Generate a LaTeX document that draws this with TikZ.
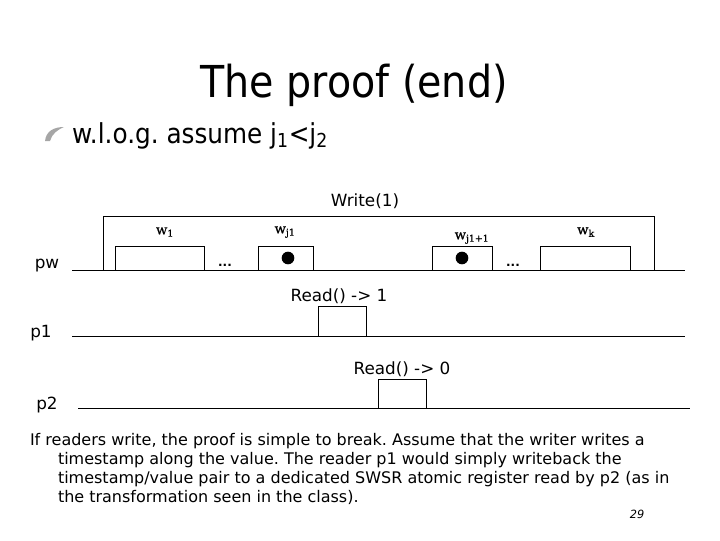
\documentclass[tikz,border=0pt]{standalone}
\usepackage{fontspec}
\setmainfont{DejaVu Sans}
\newfontfamily\tahomaish{DejaVu Sans}[FakeStretch=0.9]
\newfontfamily\serifw{DejaVu Serif}[FakeBold=1]
\newcommand{\wl}[2]{\serifw\fontsize{10}{11}\selectfont #1\textsubscript{#2}}
\frenchspacing
\tikzset{
  px/.style={x=0.75pt,y=-0.75pt},
  every node/.style={inner sep=0pt,outer sep=0pt},
  lab/.style={font=\fontsize{12.6}{14}\selectfont},
  para/.style={anchor=base west,font=\fontsize{12}{14}\selectfont},
  ln/.style={line width=0.75pt,black},
  opbox/.style={draw=black,line width=0.75pt,fill=white,anchor=south west,minimum height=#1},
  dotm/.style={circle,fill=black,minimum size=9.5pt},
  dots/.style={anchor=base,font=\fontsize{9}{10}\selectfont\bfseries}
}
\begin{document}
\begin{tikzpicture}[px]
\useasboundingbox (0,0) rectangle (720,540);
\node (title) at (354,85) {\tahomaish\fontsize{33}{40}\selectfont The proof (end)};
\fill[black!35] (45,141) .. controls (46,131) and (54,127) .. (64,127) .. controls (57,130) and (52,134) .. (50,141) -- cycle;
\node[anchor=base west] (head) at (72,143) {\tahomaish\fontsize{20.6}{24}\selectfont w.l.o.g. assume j\textsubscript{1}<j\textsubscript{2}};
\node[lab] (write) at (365,201) {Write(1)};
% pw
\coordinate (pwL) at (72,270); \coordinate (pwR) at (685,270);
\coordinate (wA) at (103,270); \coordinate (wB) at (103,216); \coordinate (wC) at (654,216); \coordinate (wD) at (654,270);
\draw[ln] (pwL) -- (pwR);
\draw[ln] (wA) -- (wB) -- (wC) -- (wD);
\node[lab] (pw) at (47,266) {pw};
\node[opbox=18pt,minimum width=66.75pt] (w1) at (115,270) {};
\node[opbox=18pt,minimum width=41.25pt] (wj) at (258,270) {};
\node[opbox=18pt,minimum width=45pt] (wjj) at (432,270) {};
\node[opbox=18pt,minimum width=67.5pt] (wk) at (540,270) {};
\node[dotm] (d1) at (288,258) {};
\node[dotm] (d2) at (462,258) {};
\node[dots] (e1) at (225,266) {...};
\node[dots] (e2) at (513,266) {...};
\node (l1) at (165,232) {\wl{w}{1}};
\node (l2) at (285,232) {\wl{w}{j1}};
\node (l3) at (472,238) {\wl{w}{j1+1}};
\node (l4) at (586,232) {\wl{w}{k}};
% p1
\coordinate (p1L) at (72,336); \coordinate (p1R) at (685,336);
\draw[ln] (p1L) -- (p1R);
\node[opbox=22.5pt,minimum width=36pt] (r1) at (318,336) {};
\node[lab] (p1) at (41,333) {p1};
\node[lab] (read1) at (339,296) {Read() -> 1};
% p2
\coordinate (p2L) at (78,408); \coordinate (p2R) at (690,408);
\draw[ln] (p2L) -- (p2R);
\node[opbox=21.75pt,minimum width=36pt] (r2) at (378,408) {};
\node[lab] (p2) at (47,405) {p2};
\node[lab] (read2) at (402,369) {Read() -> 0};
% paragraph
\node[para] (t1) at (30,445) {If readers write, the proof is simple to break. Assume that the writer writes a};
\node[para] (t2) at (58,464) {timestamp along the value. The reader p1 would simply writeback the};
\node[para] (t3) at (58,483) {timestamp/value pair to a dedicated SWSR atomic register read by p2 (as in};
\node[para] (t4) at (58,502) {the transformation seen in the class).};
\node[font=\fontsize{8.5}{10}\selectfont\itshape] (num) at (637,514) {29};
\end{tikzpicture}
\end{document}
